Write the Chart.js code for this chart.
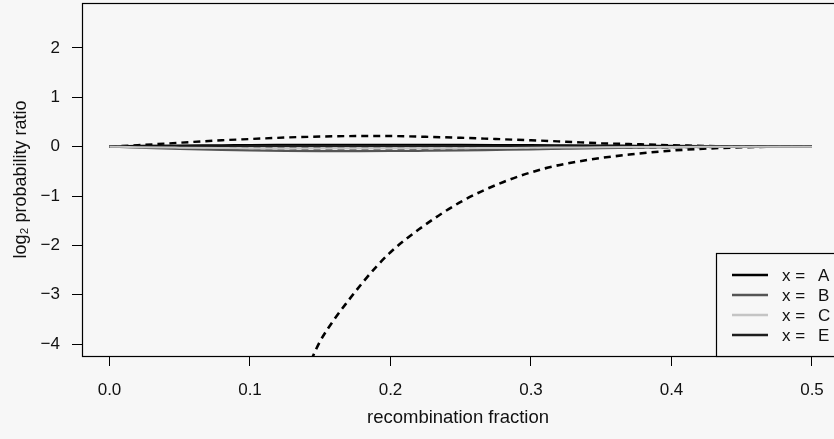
<!DOCTYPE html>
<html>
<head>
<meta charset="utf-8">
<script src="https://cdn.jsdelivr.net/npm/chart.js@4.4.1/dist/chart.umd.min.js"></script>
<style>
  html, body { margin: 0; padding: 0; background: #f7f7f7; overflow: hidden; }
  canvas { display: block; }
</style>
</head>
<body>
<canvas id="chart" width="834" height="439"></canvas>
<script>
// recombination fraction grid shared by the near-zero curves
const recombFrac = [0, 0.02, 0.05, 0.08, 0.10, 0.125, 0.15, 0.175, 0.20, 0.225, 0.25, 0.275, 0.30, 0.325, 0.35, 0.375, 0.40, 0.425, 0.45, 0.475, 0.50];

const solidA = [0, 0.01, 0.02, 0.025, 0.03, 0.032, 0.034, 0.035, 0.035, 0.034, 0.032, 0.03, 0.027, 0.023, 0.019, 0.015, 0.01, 0.006, 0.003, 0.001, 0];
const solidB = [0, -0.02, -0.045, -0.065, -0.075, -0.085, -0.09, -0.09, -0.088, -0.082, -0.075, -0.065, -0.055, -0.042, -0.03, -0.02, -0.012, -0.006, -0.002, 0, 0];
const solidC = [0, -0.01, -0.02, -0.028, -0.032, -0.036, -0.038, -0.038, -0.036, -0.033, -0.03, -0.026, -0.022, -0.017, -0.012, -0.008, -0.005, -0.002, 0, 0, 0];
const solidE = [0, 0.003, 0.006, 0.008, 0.009, 0.01, 0.01, 0.01, 0.01, 0.01, 0.009, 0.008, 0.007, 0.006, 0.005, 0.004, 0.003, 0.002, 0.001, 0, 0];

const dashUpper = [0, 0.03, 0.08, 0.13, 0.155, 0.185, 0.205, 0.215, 0.215, 0.2, 0.18, 0.155, 0.13, 0.1, 0.07, 0.05, 0.03, 0.015, 0.005, 0, 0];
const dashMid = [0, -0.005, -0.015, -0.025, -0.03, -0.035, -0.038, -0.04, -0.04, -0.04, -0.038, -0.035, -0.03, -0.025, -0.02, -0.015, -0.01, -0.006, -0.003, 0, 0];

// the deep dashed curve only exists from ~0.14 onwards
const lowFrac = [0.14, 0.15, 0.16, 0.17, 0.18, 0.19, 0.20, 0.22, 0.25, 0.28, 0.31, 0.34, 0.37, 0.40, 0.42, 0.45, 0.48, 0.50];
const dashLower = [-4.55, -3.94, -3.5, -3.12, -2.76, -2.43, -2.14, -1.68, -1.12, -0.72, -0.44, -0.27, -0.16, -0.08, -0.045, -0.012, 0, 0];

const xTicks = [0, 0.1, 0.2, 0.3, 0.4, 0.5];
const yTicks = [-4, -3, -2, -1, 0, 1, 2];
const legendLabels = ['A', 'B', 'C', 'E'];

const FONT = "'Liberation Sans', Arial, Helvetica, sans-serif";
const colors = { A: '#000000', B: '#555555', C: '#c4c4c4', E: '#1e1e1e' };

const toPoints = (xs, ys) => xs.map((x, i) => ({x: x, y: ys[i]}));

const line = (data, color, width, dash) => ({
  data: data,
  borderColor: color,
  borderWidth: width,
  borderDash: dash || [],
  pointRadius: 0,
  fill: false,
  cubicInterpolationMode: 'monotone'
});

const bgPlugin = {
  id: 'bg',
  beforeDraw(chart) {
    const c = chart.ctx;
    c.save();
    c.fillStyle = '#f7f7f7';
    c.fillRect(0, 0, chart.width, chart.height);
    c.restore();
  }
};

const boxPlugin = {
  id: 'box',
  afterDatasetsDraw(chart) {
    const c = chart.ctx;
    const a = chart.chartArea;
    c.save();
    c.strokeStyle = '#000';
    c.lineWidth = 1.2;
    c.strokeRect(Math.round(a.left) + 0.5, Math.round(a.top) + 0.5, a.right - a.left + 20, a.bottom - a.top);

    // legend in the bottom-right corner
    const lx = 716, ly = 253;
    c.fillStyle = '#f7f7f7';
    c.fillRect(lx, ly, chart.width - lx + 5, a.bottom - ly);
    c.strokeRect(lx + 0.5, ly + 0.5, chart.width - lx + 10, a.bottom - ly);
    c.font = '17px ' + FONT;
    c.textBaseline = 'middle';
    legendLabels.forEach((lab, i) => {
      const y = 275 + i * 20;
      c.strokeStyle = colors[lab];
      c.lineWidth = 2.5;
      c.beginPath();
      c.moveTo(732, y);
      c.lineTo(768, y);
      c.stroke();
      c.fillStyle = '#111';
      c.textAlign = 'left';
      c.fillText('x =', 782, y + 1);
      c.fillText(lab, 818, y + 1);
    });
    c.restore();
  }
};

new Chart(document.getElementById('chart'), {
  type: 'line',
  data: {
    datasets: [
      line(toPoints(recombFrac, solidC), colors.C, 2),
      line(toPoints(recombFrac, solidB), colors.B, 2.2),
      line(toPoints(recombFrac, dashMid), '#222', 2.4, [7, 5]),
      line(toPoints(recombFrac, solidE), colors.E, 2.2),
      line(toPoints(recombFrac, solidA), colors.A, 2.6),
      line(toPoints(recombFrac, dashUpper), '#000', 2.4, [7, 5]),
      line(toPoints(lowFrac, dashLower), '#000', 2.6, [7, 5])
    ]
  },
  options: {
    responsive: false,
    animation: false,
    layout: { padding: { top: 3, left: 0, right: 0, bottom: 0 } },
    plugins: { legend: { display: false }, tooltip: { enabled: false } },
    scales: {
      x: {
        type: 'linear',
        min: -0.01957,
        max: 0.51566,
        afterBuildTicks: (s) => { s.ticks = xTicks.map(v => ({value: v})); },
        afterFit: (s) => { s.height = 83; s.paddingLeft = 0; s.paddingRight = 0; },
        border: { display: false },
        grid: { display: true, drawOnChartArea: false, drawTicks: true, tickLength: 10, color: '#000', lineWidth: 1 },
        ticks: {
          color: '#111',
          padding: 14,
          maxRotation: 0,
          font: { family: FONT, size: 17 },
          callback: (v) => v.toFixed(1)
        },
        title: {
          display: true,
          text: 'recombination fraction',
          color: '#111',
          font: { family: FONT, size: 18.5 },
          padding: { top: 0, bottom: 10 }
        }
      },
      y: {
        min: -4.243,
        max: 2.912,
        afterBuildTicks: (s) => { s.ticks = yTicks.map(v => ({value: v})); },
        afterFit: (s) => { s.width = 82; s.paddingTop = 0; s.paddingBottom = 0; },
        border: { display: false },
        grid: { display: true, drawOnChartArea: false, drawTicks: true, tickLength: 10, color: '#000', lineWidth: 1 },
        ticks: {
          color: '#111',
          padding: 12,
          font: { family: FONT, size: 17 },
          callback: (v) => String(v).replace('-', '\u2212')
        },
        title: {
          display: true,
          text: 'log\u2082 probability ratio',
          color: '#111',
          font: { family: FONT, size: 18 },
          padding: { top: 10, bottom: 0 }
        }
      }
    }
  },
  plugins: [bgPlugin, boxPlugin]
});
</script>
</body>
</html>
